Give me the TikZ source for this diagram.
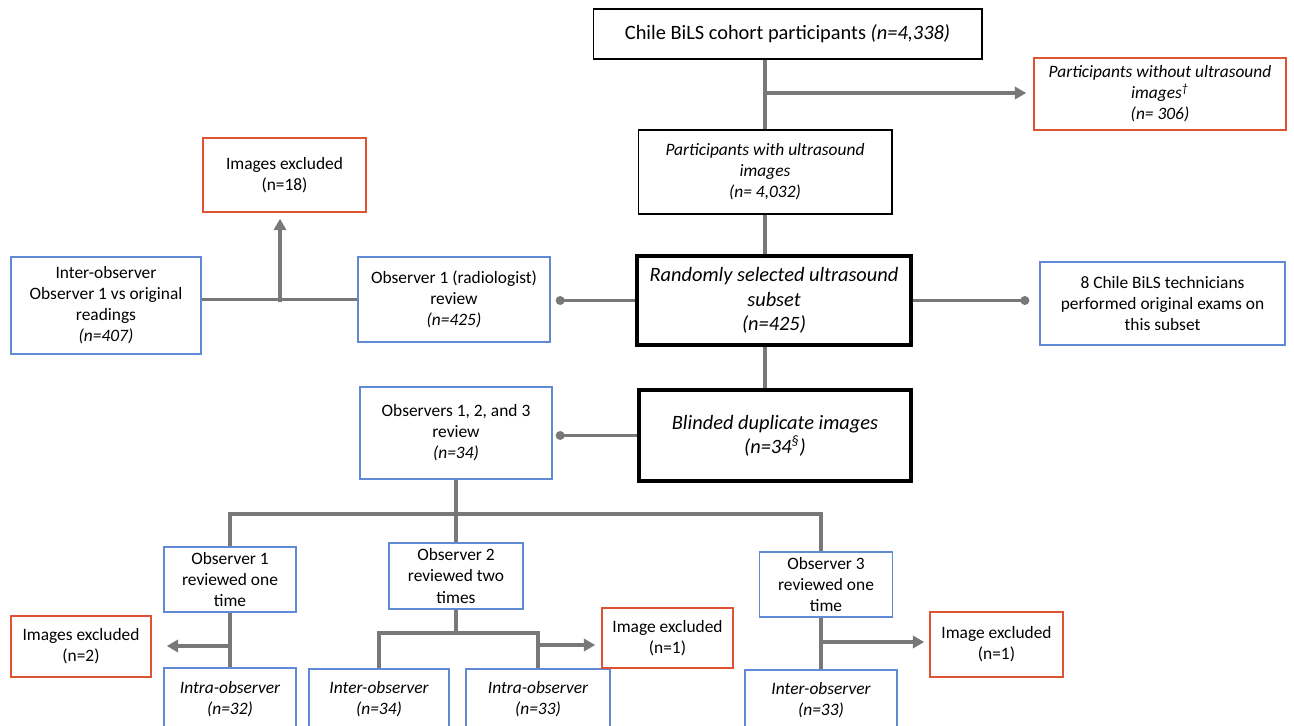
\documentclass[tikz,border=0pt]{standalone}
\usepackage{fontspec}
\setmainfont{Carlito}
\usetikzlibrary{arrows.meta}
\definecolor{linegray}{RGB}{120,120,120}
\definecolor{boxred}{RGB}{222,84,50}
\definecolor{boxblue}{RGB}{96,138,214}
\newcommand{\bigtext}{\fontsize{11.6}{13.8}\selectfont}
\newcommand{\smalltext}{\fontsize{9.9}{12}\selectfont}
\tikzset{
  box/.style={draw, line width=0.6pt, fill=white, align=center, inner sep=2pt, font=\smalltext},
  bluebox/.style={box, draw=boxblue, line width=0.9pt},
  redbox/.style={box, draw=boxred, line width=0.9pt},
  heavybox/.style={box, line width=2.3pt, font=\bigtext\itshape},
  conn/.style={draw=linegray, line width=1.8pt},
  arr/.style={conn, -{Triangle[length=6.5pt,width=7pt]}},
  dotend/.style={conn, -{Circle[length=5pt]}}
}

\begin{document}
\begin{tikzpicture}[x=0.02cm, y=-0.02cm]
\clip (0,0) rectangle (1294,726);
\fill [white] (0,0) rectangle (1294,726);

\node [box, font=\bigtext, minimum width=7.78cm, minimum height=1cm] (cohort) at (787.5,34) {Chile BiLS cohort participants \textit{(n=4,338)}};
\node [redbox, font=\smalltext\itshape, minimum width=5.04cm, minimum height=1.44cm] (without) at (1160,94) {Participants without ultrasound\\images\textsuperscript{\textdagger}\\(n= 306)};
\node [box, font=\smalltext\itshape, minimum width=5.08cm, minimum height=1.68cm] (withus) at (765,172) {Participants with ultrasound\\images\\(n= 4,032)};
\node [heavybox, minimum width=5.48cm, minimum height=1.78cm] (random) at (774,300.5) {Randomly selected ultrasound\\subset\\(n=425)};
\node [bluebox, minimum width=4.9cm, minimum height=1.66cm] (tech) at (1162.5,303.5) {8 Chile BiLS technicians\\performed original exams on\\this subset};
\node [bluebox, minimum width=3.84cm, minimum height=1.7cm] (obsone) at (454,299.5) {Observer 1 (radiologist)\\review\\\textit{(n=425)}};
\node [bluebox, minimum width=3.8cm, minimum height=1.94cm] (interor) at (106,305.5) {Inter-observer\\Observer 1 vs original\\readings\\\textit{(n=407)}};
\node [redbox, minimum width=3.26cm, minimum height=1.48cm] (exclA) at (284.5,175) {Images excluded\\(n=18)};
\node [heavybox, minimum width=5.44cm, minimum height=1.82cm] (blinded) at (775,435.5) {Blinded duplicate images\\(n=34\textsuperscript{\S})};
\node [bluebox, minimum width=3.84cm, minimum height=1.84cm] (obsall) at (456,433) {Observers 1, 2, and 3\\review\\\textit{(n=34)}};

\node [bluebox, minimum width=2.64cm, minimum height=1.3cm] (obsA) at (230,579.5) {Observer 1\\reviewed one\\time};
\node [bluebox, minimum width=2.68cm, minimum height=1.32cm] (obsB) at (456,576) {Observer 2\\reviewed two\\times};
\node [bluebox, minimum width=2.66cm, minimum height=1.3cm] (obsC) at (826,584.5) {Observer 3\\reviewed one\\time};
\node [bluebox, font=\smalltext\itshape, minimum width=2.64cm, minimum height=1.24cm] (intraA) at (230,699) {Intra-observer\\(n=32)};
\node [redbox, minimum width=2.8cm, minimum height=1.22cm] (exclB) at (81,646.5) {Images excluded\\(n=2)};
\node [bluebox, font=\smalltext\itshape, minimum width=2.8cm, minimum height=1.22cm] (interB) at (379,699.5) {Inter-observer\\(n=34)};
\node [bluebox, font=\smalltext\itshape, minimum width=2.88cm, minimum height=1.22cm] (intraB) at (538,699.5) {Intra-observer\\(n=33)};
\node [redbox, minimum width=2.62cm, minimum height=1.2cm] (exclC) at (667.5,638) {Image excluded\\(n=1)};
\node [bluebox, font=\smalltext\itshape, minimum width=3.04cm, minimum height=1.2cm] (interC) at (821,700) {Inter-observer\\(n=33)};
\node [redbox, minimum width=2.66cm, minimum height=1.3cm] (exclD) at (996.5,644.5) {Image excluded\\(n=1)};

\coordinate (trunk) at (765,0);
\coordinate (fork1) at (765,93);
\coordinate (fork2) at (280,302);
\coordinate (bus) at (456,514);
\coordinate (fork3) at (230,646);
\coordinate (bus2) at (456,633);
\coordinate (fork4) at (538,645);
\coordinate (lineC) at (821,0);
\coordinate (fork5) at (821,642);

\draw [conn] (cohort.south -| trunk) -- (withus.north -| trunk);
\draw [arr, shorten >=4pt] (fork1) -- (without.west |- fork1);
\draw [conn] (withus.south -| trunk) -- (random.north -| trunk);
\draw [dotend, shorten >=0.2cm] (random.east) -- (random.east -| tech.west);
\draw [dotend, shorten >=0.1cm] (random.west) -- (random.west -| obsone.east);
\draw [conn] (obsone.west) -- (obsone.west -| interor.east);
\draw [arr, shorten >=0.12cm] (fork2) -- (fork2 |- exclA.south);
\draw [conn] (random.south -| trunk) -- (blinded.north -| trunk);
\draw [dotend, shorten >=0.06cm] (blinded.west) -- (blinded.west -| obsall.east);

\draw [conn] (obsall.south) -- (bus);
\draw [conn] (obsA.north) |- (bus) -| (obsC.north -| lineC);
\draw [conn] (bus) -- (obsB.north);
\draw [conn] (obsA.south) -- (intraA.north);
\draw [arr, shorten >=0.3cm] (fork3) -- (fork3 -| exclB.east);
\draw [conn] (obsB.south) -- (bus2);
\draw [conn] (interB.north) |- (bus2) -| (intraB.north);
\draw [arr, shorten >=0.12cm] (fork4) -- (fork4 -| exclC.west);
\draw [conn] (obsC.south -| lineC) -- (interC.north -| lineC);
\draw [arr, shorten >=0.1cm] (fork5) -- (fork5 -| exclD.west);
\end{tikzpicture}
\end{document}
